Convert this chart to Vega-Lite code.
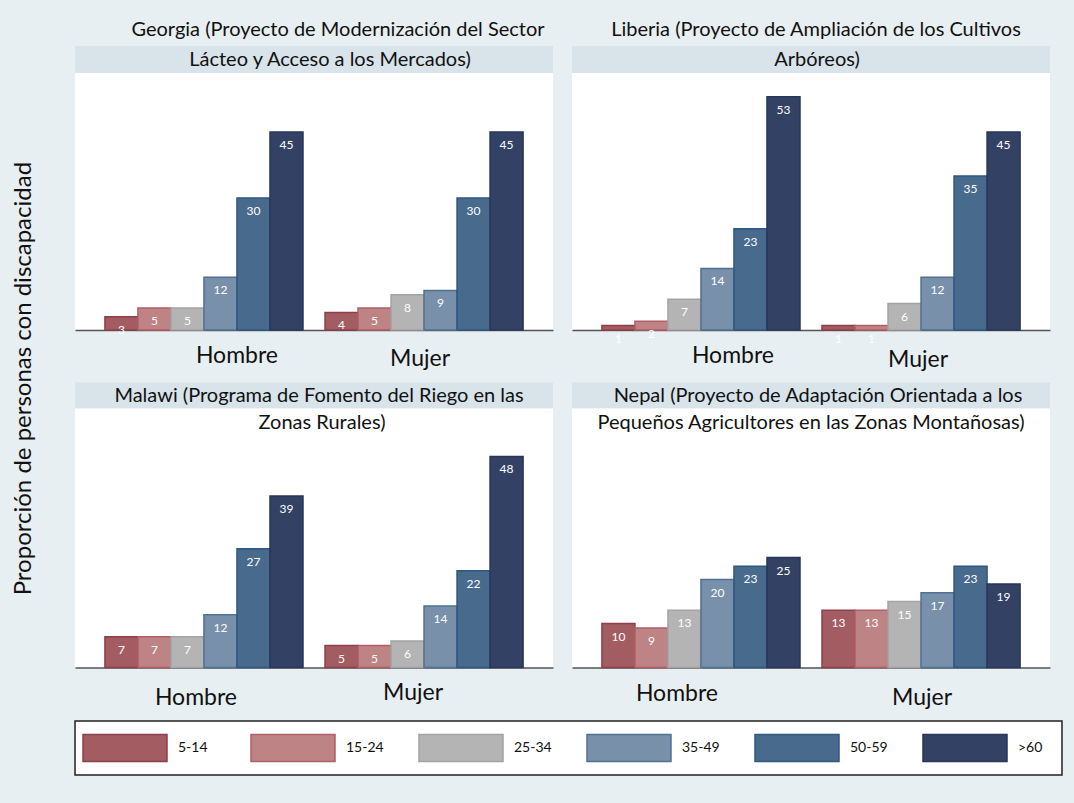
{
  "$schema": "https://vega.github.io/schema/vega-lite/v6.json",
  "background": "#e8eff2",
  "padding": {"left": 12, "top": 19, "right": 12, "bottom": 29},
  "config": {
    "font": "Lato",
    "view": {"stroke": null, "fill": "white"}
  },
  "data": {"values": [
    {"panel": "G", "gender": "Hombre", "age": "5-14", "value": 3},
    {"panel": "G", "gender": "Hombre", "age": "15-24", "value": 5},
    {"panel": "G", "gender": "Hombre", "age": "25-34", "value": 5},
    {"panel": "G", "gender": "Hombre", "age": "35-49", "value": 12},
    {"panel": "G", "gender": "Hombre", "age": "50-59", "value": 30},
    {"panel": "G", "gender": "Hombre", "age": ">60", "value": 45},
    {"panel": "G", "gender": "Mujer", "age": "5-14", "value": 4},
    {"panel": "G", "gender": "Mujer", "age": "15-24", "value": 5},
    {"panel": "G", "gender": "Mujer", "age": "25-34", "value": 8},
    {"panel": "G", "gender": "Mujer", "age": "35-49", "value": 9},
    {"panel": "G", "gender": "Mujer", "age": "50-59", "value": 30},
    {"panel": "G", "gender": "Mujer", "age": ">60", "value": 45},
    {"panel": "L", "gender": "Hombre", "age": "5-14", "value": 1},
    {"panel": "L", "gender": "Hombre", "age": "15-24", "value": 2},
    {"panel": "L", "gender": "Hombre", "age": "25-34", "value": 7},
    {"panel": "L", "gender": "Hombre", "age": "35-49", "value": 14},
    {"panel": "L", "gender": "Hombre", "age": "50-59", "value": 23},
    {"panel": "L", "gender": "Hombre", "age": ">60", "value": 53},
    {"panel": "L", "gender": "Mujer", "age": "5-14", "value": 1},
    {"panel": "L", "gender": "Mujer", "age": "15-24", "value": 1},
    {"panel": "L", "gender": "Mujer", "age": "25-34", "value": 6},
    {"panel": "L", "gender": "Mujer", "age": "35-49", "value": 12},
    {"panel": "L", "gender": "Mujer", "age": "50-59", "value": 35},
    {"panel": "L", "gender": "Mujer", "age": ">60", "value": 45},
    {"panel": "M", "gender": "Hombre", "age": "5-14", "value": 7},
    {"panel": "M", "gender": "Hombre", "age": "15-24", "value": 7},
    {"panel": "M", "gender": "Hombre", "age": "25-34", "value": 7},
    {"panel": "M", "gender": "Hombre", "age": "35-49", "value": 12},
    {"panel": "M", "gender": "Hombre", "age": "50-59", "value": 27},
    {"panel": "M", "gender": "Hombre", "age": ">60", "value": 39},
    {"panel": "M", "gender": "Mujer", "age": "5-14", "value": 5},
    {"panel": "M", "gender": "Mujer", "age": "15-24", "value": 5},
    {"panel": "M", "gender": "Mujer", "age": "25-34", "value": 6},
    {"panel": "M", "gender": "Mujer", "age": "35-49", "value": 14},
    {"panel": "M", "gender": "Mujer", "age": "50-59", "value": 22},
    {"panel": "M", "gender": "Mujer", "age": ">60", "value": 48},
    {"panel": "N", "gender": "Hombre", "age": "5-14", "value": 10},
    {"panel": "N", "gender": "Hombre", "age": "15-24", "value": 9},
    {"panel": "N", "gender": "Hombre", "age": "25-34", "value": 13},
    {"panel": "N", "gender": "Hombre", "age": "35-49", "value": 20},
    {"panel": "N", "gender": "Hombre", "age": "50-59", "value": 23},
    {"panel": "N", "gender": "Hombre", "age": ">60", "value": 25},
    {"panel": "N", "gender": "Mujer", "age": "5-14", "value": 13},
    {"panel": "N", "gender": "Mujer", "age": "15-24", "value": 13},
    {"panel": "N", "gender": "Mujer", "age": "25-34", "value": 15},
    {"panel": "N", "gender": "Mujer", "age": "35-49", "value": 17},
    {"panel": "N", "gender": "Mujer", "age": "50-59", "value": 23},
    {"panel": "N", "gender": "Mujer", "age": ">60", "value": 19}
  ]},
  "title": {"text": "Proporción de personas con discapacidad", "orient": "left", "anchor": "middle", "fontSize": 24, "fontWeight": "normal", "offset": 38, "dx": 19, "color": "#111"},
  "spacing": 10.5,
  "resolve": {"scale": {"x": "independent", "y": "independent"}},
  "vconcat": [
    {
      "spacing": 19,
      "hconcat": [
        {
          "spacing": 0, "bounds": "flush",
          "vconcat": [
            {"width": 478, "height": 27, "view": {"fill": "#d8e4ea", "stroke": null},
             "title": {"text": "Georgia (Proyecto de Modernización del Sector", "offset": -13.5, "dx": 24, "baseline": "bottom", "fontSize": 20, "fontWeight": "normal", "anchor": "middle", "color": "#111"},
             "data": {"values": [{"t": "Lácteo y Acceso a los Mercados)"}]},
             "mark": {"type": "text", "fontSize": 20, "color": "#111", "baseline": "middle", "dx": 16},
             "encoding": {"text": {"field": "t", "type": "nominal"}}},
            {"width": 478, "height": 257,
             "transform": [{"filter": "datum.panel === 'G'"}],
             "layer": [
               {"mark": {"type": "bar", "strokeWidth": 1.5},
                "encoding": {
                  "x": {"field": "gender", "type": "nominal", "sort": ["Hombre", "Mujer"], "scale": {"paddingInner": 0.1, "paddingOuter": 0.136}, "axis": {"title": null, "labelAngle": 0, "labelFontSize": 23, "labelColor": "#111", "labelPadding": {"condition": {"test": "datum.value === 'Hombre'", "value": 14.5}, "value": 17.5}, "labelOffset": {"condition": {"test": "datum.value === 'Hombre'", "value": 33}, "value": -4}, "ticks": false, "domainColor": "#555", "domainWidth": 1.5}},
                  "xOffset": {"field": "age", "type": "nominal", "sort": ["5-14", "15-24", "25-34", "35-49", "50-59", ">60"], "scale": {"paddingInner": 0, "paddingOuter": 0}},
                  "y": {"field": "value", "type": "quantitative", "scale": {"domain": [0, 58.4], "nice": false}, "axis": null},
                  "fill": {"field": "age", "type": "nominal", "legend": null, "scale": {"domain": ["5-14", "15-24", "25-34", "35-49", "50-59", ">60"], "range": ["#a25c62", "#be8385", "#b4b4b4", "#7890a9", "#476a8d", "#334264"]}},
                  "stroke": {"field": "age", "type": "nominal", "legend": null, "scale": {"domain": ["5-14", "15-24", "25-34", "35-49", "50-59", ">60"], "range": ["#8e3f49", "#b25e66", "#a3a3a3", "#4f7196", "#2f5782", "#27365a"]}}
                }},
               {"mark": {"type": "text", "dy": 13, "color": "white", "fontSize": 12, "baseline": "middle"},
                "encoding": {
                  "x": {"field": "gender", "type": "nominal", "sort": ["Hombre", "Mujer"]},
                  "xOffset": {"field": "age", "type": "nominal", "sort": ["5-14", "15-24", "25-34", "35-49", "50-59", ">60"]},
                  "y": {"field": "value", "type": "quantitative"},
                  "text": {"field": "value", "type": "quantitative"}
                }}
             ]}
          ]
        },
        {
          "spacing": 0, "bounds": "flush",
          "vconcat": [
            {"width": 478, "height": 27, "view": {"fill": "#d8e4ea", "stroke": null},
             "title": {"text": "Liberia (Proyecto de Ampliación de los Cultivos", "offset": -13.5, "dx": 5, "baseline": "bottom", "fontSize": 20, "fontWeight": "normal", "anchor": "middle", "color": "#111"},
             "data": {"values": [{"t": "Arbóreos)"}]},
             "mark": {"type": "text", "fontSize": 20, "color": "#111", "baseline": "middle", "dx": 6},
             "encoding": {"text": {"field": "t", "type": "nominal"}}},
            {"width": 478, "height": 257,
             "transform": [{"filter": "datum.panel === 'L'"}],
             "layer": [
               {"mark": {"type": "bar", "strokeWidth": 1.5},
                "encoding": {
                  "x": {"field": "gender", "type": "nominal", "sort": ["Hombre", "Mujer"], "scale": {"paddingInner": 0.1, "paddingOuter": 0.136}, "axis": {"title": null, "labelAngle": 0, "labelFontSize": 23, "labelColor": "#111", "labelPadding": {"condition": {"test": "datum.value === 'Hombre'", "value": 14.5}, "value": 18.5}, "labelOffset": {"condition": {"test": "datum.value === 'Hombre'", "value": 32}, "value": -3}, "ticks": false, "domainColor": "#555", "domainWidth": 1.5}},
                  "xOffset": {"field": "age", "type": "nominal", "sort": ["5-14", "15-24", "25-34", "35-49", "50-59", ">60"], "scale": {"paddingInner": 0, "paddingOuter": 0}},
                  "y": {"field": "value", "type": "quantitative", "scale": {"domain": [0, 58.4], "nice": false}, "axis": null},
                  "fill": {"field": "age", "type": "nominal", "legend": null, "scale": {"domain": ["5-14", "15-24", "25-34", "35-49", "50-59", ">60"], "range": ["#a25c62", "#be8385", "#b4b4b4", "#7890a9", "#476a8d", "#334264"]}},
                  "stroke": {"field": "age", "type": "nominal", "legend": null, "scale": {"domain": ["5-14", "15-24", "25-34", "35-49", "50-59", ">60"], "range": ["#8e3f49", "#b25e66", "#a3a3a3", "#4f7196", "#2f5782", "#27365a"]}}
                }},
               {"mark": {"type": "text", "dy": 13, "color": "white", "fontSize": 12, "baseline": "middle"},
                "encoding": {
                  "x": {"field": "gender", "type": "nominal", "sort": ["Hombre", "Mujer"]},
                  "xOffset": {"field": "age", "type": "nominal", "sort": ["5-14", "15-24", "25-34", "35-49", "50-59", ">60"]},
                  "y": {"field": "value", "type": "quantitative"},
                  "text": {"field": "value", "type": "quantitative"}
                }}
             ]}
          ]
        }
      ]
    },
    {
      "spacing": 19,
      "hconcat": [
        {
          "spacing": 0, "bounds": "flush",
          "vconcat": [
            {"width": 478, "height": 26, "view": {"fill": "#d8e4ea", "stroke": null},
             "data": {"values": [{"t": "Malawi (Programa de Fomento del Riego en las"}]},
             "mark": {"type": "text", "fontSize": 20, "color": "#111", "baseline": "middle", "dx": 5},
             "encoding": {"text": {"field": "t", "type": "nominal"}}},
            {"width": 478, "height": 259,
             "title": {"text": "Zonas Rurales)", "offset": -44.5, "dx": 8, "baseline": "bottom", "fontSize": 20, "fontWeight": "normal", "anchor": "middle", "color": "#111"},
             "transform": [{"filter": "datum.panel === 'M'"}],
             "layer": [
               {"mark": {"type": "bar", "strokeWidth": 1.5},
                "encoding": {
                  "x": {"field": "gender", "type": "nominal", "sort": ["Hombre", "Mujer"], "scale": {"paddingInner": 0.1, "paddingOuter": 0.136}, "axis": {"title": null, "labelAngle": 0, "labelFontSize": 23, "labelColor": "#111", "labelPadding": {"condition": {"test": "datum.value === 'Hombre'", "value": 18.5}, "value": 13.5}, "labelOffset": {"condition": {"test": "datum.value === 'Hombre'", "value": -8}, "value": -11}, "ticks": false, "domainColor": "#555", "domainWidth": 1.5}},
                  "xOffset": {"field": "age", "type": "nominal", "sort": ["5-14", "15-24", "25-34", "35-49", "50-59", ">60"], "scale": {"paddingInner": 0, "paddingOuter": 0}},
                  "y": {"field": "value", "type": "quantitative", "scale": {"domain": [0, 58.9], "nice": false}, "axis": null},
                  "fill": {"field": "age", "type": "nominal", "legend": null, "scale": {"domain": ["5-14", "15-24", "25-34", "35-49", "50-59", ">60"], "range": ["#a25c62", "#be8385", "#b4b4b4", "#7890a9", "#476a8d", "#334264"]}},
                  "stroke": {"field": "age", "type": "nominal", "legend": null, "scale": {"domain": ["5-14", "15-24", "25-34", "35-49", "50-59", ">60"], "range": ["#8e3f49", "#b25e66", "#a3a3a3", "#4f7196", "#2f5782", "#27365a"]}}
                }},
               {"mark": {"type": "text", "dy": 13, "color": "white", "fontSize": 12, "baseline": "middle"},
                "encoding": {
                  "x": {"field": "gender", "type": "nominal", "sort": ["Hombre", "Mujer"]},
                  "xOffset": {"field": "age", "type": "nominal", "sort": ["5-14", "15-24", "25-34", "35-49", "50-59", ">60"]},
                  "y": {"field": "value", "type": "quantitative"},
                  "text": {"field": "value", "type": "quantitative"}
                }}
             ]}
          ]
        },
        {
          "spacing": 0, "bounds": "flush",
          "vconcat": [
            {"width": 478, "height": 26, "view": {"fill": "#d8e4ea", "stroke": null},
             "data": {"values": [{"t": "Nepal (Proyecto de Adaptación Orientada a los"}]},
             "mark": {"type": "text", "fontSize": 20, "color": "#111", "baseline": "middle", "dx": 7},
             "encoding": {"text": {"field": "t", "type": "nominal"}}},
            {"width": 478, "height": 259,
             "title": {"text": "Pequeños Agricultores en las Zonas Montañosas)", "offset": -44.5, "baseline": "bottom", "fontSize": 20, "fontWeight": "normal", "anchor": "middle", "color": "#111"},
             "transform": [{"filter": "datum.panel === 'N'"}],
             "layer": [
               {"mark": {"type": "bar", "strokeWidth": 1.5},
                "encoding": {
                  "x": {"field": "gender", "type": "nominal", "sort": ["Hombre", "Mujer"], "scale": {"paddingInner": 0.1, "paddingOuter": 0.136}, "axis": {"title": null, "labelAngle": 0, "labelFontSize": 23, "labelColor": "#111", "labelPadding": {"condition": {"test": "datum.value === 'Hombre'", "value": 14.5}, "value": 18.5}, "labelOffset": {"condition": {"test": "datum.value === 'Hombre'", "value": -24}, "value": 1}, "ticks": false, "domainColor": "#555", "domainWidth": 1.5}},
                  "xOffset": {"field": "age", "type": "nominal", "sort": ["5-14", "15-24", "25-34", "35-49", "50-59", ">60"], "scale": {"paddingInner": 0, "paddingOuter": 0}},
                  "y": {"field": "value", "type": "quantitative", "scale": {"domain": [0, 58.9], "nice": false}, "axis": null},
                  "fill": {"field": "age", "type": "nominal", "legend": null, "scale": {"domain": ["5-14", "15-24", "25-34", "35-49", "50-59", ">60"], "range": ["#a25c62", "#be8385", "#b4b4b4", "#7890a9", "#476a8d", "#334264"]}},
                  "stroke": {"field": "age", "type": "nominal", "legend": null, "scale": {"domain": ["5-14", "15-24", "25-34", "35-49", "50-59", ">60"], "range": ["#8e3f49", "#b25e66", "#a3a3a3", "#4f7196", "#2f5782", "#27365a"]}}
                }},
               {"mark": {"type": "text", "dy": 13, "color": "white", "fontSize": 12, "baseline": "middle"},
                "encoding": {
                  "x": {"field": "gender", "type": "nominal", "sort": ["Hombre", "Mujer"]},
                  "xOffset": {"field": "age", "type": "nominal", "sort": ["5-14", "15-24", "25-34", "35-49", "50-59", ">60"]},
                  "y": {"field": "value", "type": "quantitative"},
                  "text": {"field": "value", "type": "quantitative"}
                }}
             ]}
          ]
        }
      ]
    },
    {
      "width": 987, "height": 54,
      "view": {"fill": "white", "stroke": "#222", "strokeWidth": 1.5},
      "data": {"values": [{"age": "5-14"}, {"age": "15-24"}, {"age": "25-34"}, {"age": "35-49"}, {"age": "50-59"}, {"age": ">60"}]},
      "layer": [
        {"mark": {"type": "point", "shape": "M-1,-0.32H1V0.32H-1Z", "size": 7056, "filled": true, "opacity": 1, "strokeWidth": 1.5, "xOffset": -23.5},
         "encoding": {
           "x": {"field": "age", "type": "nominal", "sort": ["5-14", "15-24", "25-34", "35-49", "50-59", ">60"], "scale": {"type": "point", "padding": 0.4375}, "axis": null},
           "fill": {"field": "age", "type": "nominal", "legend": null, "scale": {"domain": ["5-14", "15-24", "25-34", "35-49", "50-59", ">60"], "range": ["#a25c62", "#be8385", "#b4b4b4", "#7890a9", "#476a8d", "#334264"]}},
           "stroke": {"field": "age", "type": "nominal", "legend": null, "scale": {"domain": ["5-14", "15-24", "25-34", "35-49", "50-59", ">60"], "range": ["#8e3f49", "#b25e66", "#a3a3a3", "#4f7196", "#2f5782", "#27365a"]}}
         }},
        {"mark": {"type": "text", "align": "left", "baseline": "middle", "dx": 29.5, "fontSize": 14, "color": "#111"},
         "encoding": {
           "x": {"field": "age", "type": "nominal", "sort": ["5-14", "15-24", "25-34", "35-49", "50-59", ">60"]},
           "text": {"field": "age", "type": "nominal"}
         }}
      ]
    }
  ]
}
